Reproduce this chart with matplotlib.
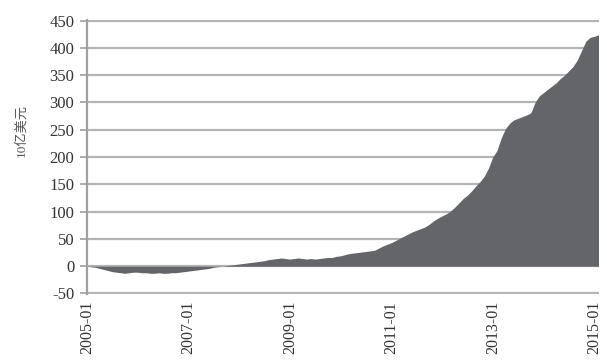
import matplotlib
matplotlib.use("Agg")
import matplotlib.pyplot as plt
import numpy as np

# Monthly balance, billions of USD, 2005-01 .. 2015-02
months = [f"{y}-{m:02d}" for y in range(2005, 2016) for m in range(1, 13)][:122]
values = [
    0, -1, -2, -4, -6, -8, -10, -11, -12, -13, -12, -11,          # 2005
    -11, -12, -12, -13, -13, -12, -13, -13, -12, -12, -11, -10,   # 2006
    -9, -8, -7, -6, -5, -4, -2, -1, 0, 1, 2, 3,                   # 2007
    4, 5, 6, 7, 8, 9, 10, 12, 13, 14, 15, 14,                     # 2008
    13, 14, 15, 14, 13, 14, 13, 14, 15, 16, 16, 18,               # 2009
    19, 21, 23, 24, 25, 26, 27, 28, 29, 33, 37, 40,               # 2010
    43, 47, 51, 55, 59, 63, 66, 69, 72, 77, 83, 88,               # 2011
    92, 96, 101, 108, 116, 124, 130, 138, 147, 155, 165, 180,     # 2012
    200, 212, 235, 252, 262, 268, 271, 274, 277, 281, 300, 312,   # 2013
    318, 324, 330, 336, 344, 350, 358, 366, 378, 395, 412, 419,   # 2014
    421, 424,                                                     # 2015
]
tick_labels = ["2005-01", "2007-01", "2009-01", "2011-01", "2013-01", "2015-01"]
y_ticks = [-50, 0, 50, 100, 150, 200, 250, 300, 350, 400, 450]

serif = ["Liberation Serif", "Noto Sans CJK SC"]

fig = plt.figure(figsize=(6.07, 3.63), dpi=100)
ax = fig.add_axes([0.143, 0.19, 0.843, 0.755])

x = np.arange(len(values))
ax.fill_between(x, 0, values, color="#646569", linewidth=0, zorder=3)

ax.set_xlim(0, len(values) - 1)
ax.set_ylim(-51, 451)
ax.set_yticks(y_ticks)
ax.set_yticklabels([str(v) for v in y_ticks], family=serif, fontsize=12, color="#333333")
ax.yaxis.grid(True, color="#b4b4b4", linewidth=1.6, zorder=1)
ax.set_axisbelow(True)

tick_pos = [months.index(t) for t in tick_labels]
ax.set_xticks(tick_pos)
ax.set_xticklabels(tick_labels, rotation=90, family=serif, fontsize=11.5, color="#333333")
ax.tick_params(axis="x", length=0, pad=5)
ax.tick_params(axis="y", length=5, width=1.2, color="#a0a0a0", pad=4)

for side in ["top", "right", "bottom"]:
    ax.spines[side].set_visible(False)
ax.spines["left"].set_color("#a0a0a0")
ax.spines["left"].set_linewidth(1.6)

fig.text(0.035, 0.64, "10亿美元", rotation=90, ha="center", va="center",
         family=serif, fontsize=9.5, color="#555555")

fig.savefig("out.png", dpi=100, facecolor="white")
